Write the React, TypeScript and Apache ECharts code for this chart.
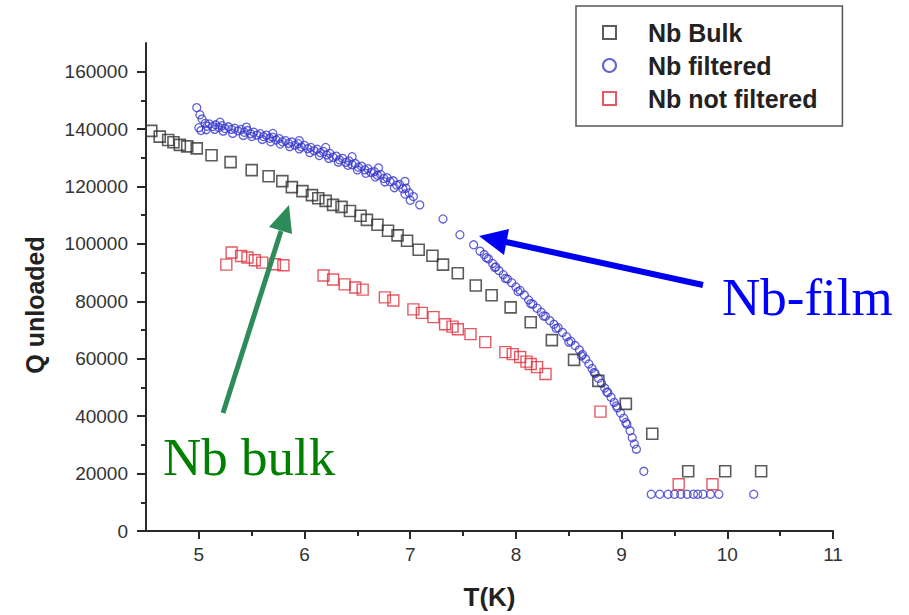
import React, { useEffect, useRef } from "react";
import * as echarts from "echarts";

const xMajor = [5, 6, 7, 8, 9, 10, 11];
const xMinor = [5.5, 6.5, 7.5, 8.5, 9.5, 10.5];
const yMajor = [0, 20000, 40000, 60000, 80000, 100000, 120000, 140000, 160000];
const yMinor = [10000, 30000, 50000, 70000, 90000, 110000, 130000, 150000];

const bulkData = [
  [4.55, 139400], [4.63, 137400], [4.71, 136200], [4.76, 135400], [4.82, 134500],
  [4.89, 134000], [4.98, 133300], [5.12, 130900], [5.3, 128500], [5.5, 125700],
  [5.66, 123600], [5.79, 121900], [5.88, 119800], [5.98, 118400], [6.07, 117000],
  [6.13, 115900], [6.2, 115000], [6.27, 113600], [6.35, 112900], [6.43, 111500],
  [6.53, 109800], [6.59, 108400], [6.69, 106700], [6.79, 104600], [6.88, 103000],
  [6.97, 101100], [7.08, 98000], [7.21, 95900], [7.31, 92800], [7.45, 89800],
  [7.62, 85500], [7.77, 82100], [7.95, 77900], [8.14, 72700], [8.34, 66500],
  [8.55, 59600], [8.78, 52300], [9.04, 44300], [9.29, 33900], [9.63, 20800],
  [9.98, 20800], [10.32, 20800],
];

const filteredData = [
  [4.98, 147500], [5.01, 145000], [5.03, 143500], [5.0, 140500], [5.02, 139500],
  [5.06, 142000], [5.08, 141000], [5.1, 141800], [5.13, 140900], [5.16, 141500],
  [5.19, 140600], [5.22, 141200], [5.25, 140200], [5.28, 140800], [5.31, 139900],
  [5.34, 140300], [5.37, 139400], [5.4, 139900], [5.43, 138900], [5.46, 139500],
  [5.49, 138400], [5.52, 138900], [5.55, 137900], [5.58, 138400], [5.61, 137400],
  [5.64, 137900], [5.67, 136800], [5.7, 137200], [5.73, 136200], [5.76, 136700],
  [5.79, 135600], [5.82, 136000], [5.85, 135000], [5.88, 135500], [5.91, 134400],
  [5.94, 134900], [5.97, 133800], [6.0, 134300], [6.03, 133200], [6.06, 133600],
  [6.09, 132500], [6.12, 133000], [6.15, 131800], [6.18, 132200], [6.21, 131000],
  [6.24, 131500], [6.27, 130200], [6.3, 130600], [6.33, 129300], [6.36, 129800],
  [6.39, 128400], [6.42, 128900], [6.45, 127600], [6.48, 128000], [6.51, 126700],
  [6.54, 127100], [6.57, 125800], [6.6, 126200], [6.63, 124900], [6.66, 125200],
  [6.69, 123900], [6.72, 124200], [6.75, 122800], [6.78, 123100], [6.81, 121700],
  [6.84, 122000], [6.87, 120500], [6.9, 120700], [6.93, 119200], [6.96, 119400],
  [6.99, 117800], [7.03, 116500], [7.09, 113600], [7.31, 108700], [7.47, 103200],
  [7.6, 99700], [7.66, 97500], [7.7, 96300], [7.74, 94800], [7.78, 93200],
  [7.81, 92000], [7.84, 90700], [7.88, 89300], [7.92, 87800], [7.96, 86500],
  [8.0, 85000], [8.04, 83800], [8.08, 82200], [8.12, 80500], [8.16, 79000],
  [8.2, 77600], [8.24, 76200], [8.28, 74800], [8.32, 73300], [8.36, 72000],
  [8.4, 70800], [8.44, 69200], [8.48, 67700], [8.52, 66100], [8.56, 64600],
  [8.6, 63100], [8.63, 61500], [8.66, 59900], [8.69, 58200], [8.72, 56600],
  [8.75, 54900], [8.78, 53200], [8.81, 51500], [8.84, 49800], [8.87, 48200],
  [8.9, 46600], [8.93, 44800], [8.96, 42900], [8.99, 41100], [9.02, 39300],
  [9.05, 37200], [9.08, 34900], [9.1, 32500], [9.12, 30300], [9.14, 28500],
  [9.21, 20800], [9.28, 12800], [9.36, 12800], [9.44, 12800], [9.5, 12800],
  [9.56, 12800], [9.62, 12800], [9.68, 12800], [9.72, 12800], [9.77, 12800],
  [9.84, 12800], [9.92, 12800], [10.25, 12800],
  [5.07, 139800], [5.15, 139900], [5.23, 139300], [5.32, 138500], [5.42, 137800],
  [5.5, 137400], [5.6, 136400], [5.68, 135600], [5.77, 134800], [5.86, 133900],
  [5.95, 133100], [6.05, 131800], [6.14, 130800], [6.23, 129800], [6.32, 128500],
  [6.41, 127400], [6.5, 125800], [6.58, 124600], [6.67, 123300], [6.76, 121600],
  [6.85, 119600], [6.95, 117400], [7.0, 115200],
  [5.2, 142400], [5.45, 140700], [5.7, 138500], [5.95, 136000], [6.2, 133600],
  [6.45, 130400], [6.7, 126500], [6.95, 121800],
  [7.72, 95200], [7.8, 91800], [7.9, 88000], [8.02, 83400], [8.14, 79200],
  [8.26, 74900], [8.38, 70600], [8.5, 65800], [8.62, 61000], [8.74, 55200],
  [8.86, 48400], [8.95, 43600], [9.04, 37800],
];

const notFilteredData = [
  [5.26, 92800], [5.31, 97000], [5.4, 95800], [5.46, 95300], [5.53, 94300],
  [5.6, 93500], [5.72, 92900], [5.8, 92600], [6.18, 89000], [6.27, 87600],
  [6.38, 85900], [6.48, 84800], [6.55, 84100], [6.76, 81400], [6.84, 80300],
  [7.03, 77200], [7.11, 76000], [7.22, 74500], [7.33, 72000], [7.4, 71200],
  [7.45, 70300], [7.57, 68600], [7.71, 65800], [7.9, 62300], [7.97, 61600],
  [8.04, 60600], [8.1, 59000], [8.14, 58200], [8.2, 57100], [8.28, 54700],
  [8.8, 41600], [9.54, 16300], [9.86, 16300],
];

const seriesNames = ["Nb Bulk", "Nb filtered", "Nb not filtered"];

export default function App() {
  const ref = useRef<HTMLDivElement>(null);
  useEffect(() => {
    if (!ref.current) return;
    const chart = echarts.init(ref.current, null, { renderer: "svg" });
    const font = "'Liberation Sans', Arial, sans-serif";
    const axisLineStyle = { color: "#2a2a2a", width: 2 };
    const plain = (v: number) => String(v);
    chart.setOption({
      animation: false,
      backgroundColor: "#ffffff",
      grid: { left: 146, right: 76, top: 43, bottom: 80 },
      legend: {
        orient: "vertical",
        left: 576,
        top: 6,
        padding: [14, 25, 15, 26],
        itemWidth: 13,
        itemHeight: 13,
        itemGap: 8,
        borderColor: "#555",
        borderWidth: 1.5,
        selectedMode: false,
        textStyle: {
          fontSize: 25,
          fontFamily: font,
          fontWeight: "bold",
          color: "#222",
          lineHeight: 25,
          padding: [0, 0, 0, 27],
        },
        data: seriesNames,
      },
      xAxis: [
        {
          type: "value",
          min: 4.5,
          max: 11,
          interval: 0.5,
          name: "T(K)",
          nameLocation: "middle",
          nameGap: 53,
          nameTextStyle: { fontSize: 26, fontWeight: "bold", fontFamily: font, color: "#222" },
          axisLine: { show: true, onZero: false, lineStyle: axisLineStyle },
          axisTick: { show: true, length: 8, lineStyle: { color: "#2a2a2a", width: 2 }, customValues: xMajor },
          axisLabel: { customValues: xMajor, formatter: plain, fontSize: 19, fontFamily: font, color: "#333", margin: 14 },
          splitLine: { show: false },
        },
        {
          type: "value",
          min: 4.5,
          max: 11,
          interval: 0.5,
          position: "bottom",
          axisLine: { show: false },
          axisTick: { show: true, length: 5, lineStyle: { color: "#2a2a2a", width: 2 }, customValues: xMinor },
          axisLabel: { show: false },
          splitLine: { show: false },
        },
      ],
      yAxis: [
        {
          type: "value",
          min: 0,
          max: 170000,
          interval: 10000,
          name: "Q unloaded",
          nameLocation: "middle",
          nameGap: 99,
          nameRotate: 90,
          nameTextStyle: {
            fontSize: 25,
            fontWeight: "bold",
            fontFamily: font,
            color: "#222",
            padding: [0, 36, 0, 0],
          },
          axisLine: { show: true, onZero: false, lineStyle: axisLineStyle },
          axisTick: { show: true, length: 9, lineStyle: { color: "#2a2a2a", width: 2 }, customValues: yMajor },
          axisLabel: { customValues: yMajor, formatter: plain, fontSize: 19, fontFamily: font, color: "#333", margin: 18 },
          splitLine: { show: false },
        },
        {
          type: "value",
          min: 0,
          max: 170000,
          interval: 10000,
          position: "left",
          axisLine: { show: false },
          axisTick: { show: true, length: 5, lineStyle: { color: "#2a2a2a", width: 2 }, customValues: yMinor },
          axisLabel: { show: false },
          splitLine: { show: false },
        },
      ],
      series: [
        {
          name: seriesNames[0],
          type: "scatter",
          symbol: "rect",
          symbolSize: 11,
          data: bulkData,
          itemStyle: { color: "rgba(255,255,255,0)", borderColor: "#333333", borderWidth: 1.6 },
          z: 3,
        },
        {
          name: seriesNames[1],
          type: "scatter",
          symbol: "circle",
          symbolSize: 8,
          data: filteredData,
          itemStyle: { color: "rgba(255,255,255,0)", borderColor: "#3a3acc", borderWidth: 1.3 },
          z: 2,
        },
        {
          name: seriesNames[2],
          type: "scatter",
          symbol: "rect",
          symbolSize: 11,
          data: notFilteredData,
          itemStyle: { color: "rgba(255,255,255,0)", borderColor: "#e0303c", borderWidth: 1.4 },
          z: 2,
        },
      ],
      graphic: [
        {
          type: "line",
          shape: { x1: 703, y1: 285, x2: 506, y2: 242 },
          style: { stroke: "#0000f0", lineWidth: 6 },
          z: 10,
        },
        {
          type: "polygon",
          shape: { points: [[479, 236], [509, 229], [504, 255]] },
          style: { fill: "#0000f0" },
          z: 10,
        },
        {
          type: "line",
          shape: { x1: 223, y1: 413, x2: 281, y2: 231 },
          style: { stroke: "#2e8b5a", lineWidth: 5 },
          z: 10,
        },
        {
          type: "polygon",
          shape: { points: [[289, 205], [292, 234], [269, 227]] },
          style: { fill: "#2e8b5a" },
          z: 10,
        },
        {
          type: "text",
          x: 722,
          y: 297,
          style: {
            text: "Nb-film",
            fill: "#0000ff",
            font: "53px 'Liberation Serif', 'Times New Roman', serif",
            verticalAlign: "middle",
            align: "left",
          },
          z: 10,
        },
        {
          type: "text",
          x: 163,
          y: 457,
          style: {
            text: "Nb bulk",
            fill: "#008000",
            font: "53px 'Liberation Serif', 'Times New Roman', serif",
            verticalAlign: "middle",
            align: "left",
          },
          z: 10,
        },
      ],
    });
    return () => chart.dispose();
  }, []);
  return (
    <div
      ref={ref}
      style={{ position: "fixed", left: 0, top: 0, width: 909, height: 615, background: "#fff" }}
    />
  );
}
